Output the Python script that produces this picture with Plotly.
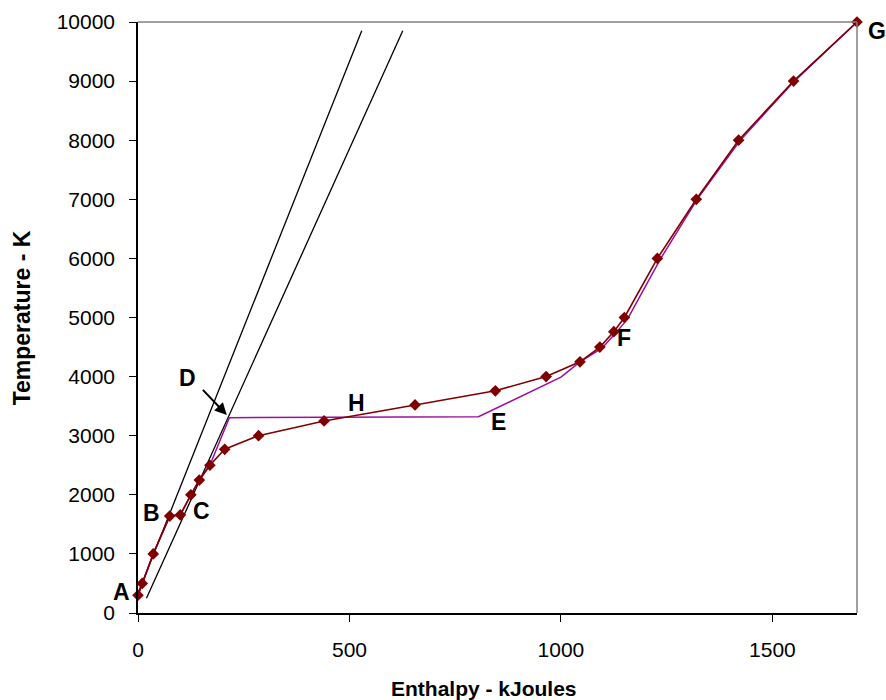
import plotly.graph_objects as go

# Main measured curve (dark red with diamond markers)
enthalpy = [0, 10, 36, 75, 100, 125, 145, 170, 205, 285, 440, 655, 845, 965,
            1045, 1092, 1125, 1150, 1228, 1320, 1420, 1550, 1700]
temperature = [300, 500, 1000, 1640, 1660, 2000, 2250, 2500, 2770, 3000, 3250,
               3520, 3760, 4000, 4250, 4500, 4760, 5000, 6000, 7000, 8000, 9000, 10000]

# Purple equilibrium path
eq_enthalpy = [0, 10, 36, 75, 100, 125, 145, 170, 216, 805, 1000, 1045, 1097,
               1130, 1158, 1236, 1322, 1424, 1552, 1700]
eq_temperature = [300, 500, 1000, 1640, 1660, 2000, 2250, 2500, 3305, 3320, 3990,
                  4250, 4480, 4740, 4980, 6000, 7000, 8000, 9000, 10000]

# Two straight reference lines
line1_x = [0, 529]
line1_y = [333, 9853]
line2_x = [20, 626]
line2_y = [248, 9853]

# Point labels (label anchor in data coords, plus pixel offsets for edge labels)
label_text = ["A", "B", "C", "D", "H", "E", "F", "G"]
label_x = [0, 31, 149, 116, 517, 852, 1149, 1700]
label_y = [355, 1692, 1726, 3976, 3548, 3237, 4648, 9848]
label_dx = [-17, 0, 0, 0, 0, 0, 0, 20]

# Arrow D
arrow_tail = (150, 3800)
arrow_head = (210, 3350)

x_ticks = [0, 500, 1000, 1500]
y_ticks = list(range(0, 10001, 1000))
y_ticktext = [str(v) for v in y_ticks]

FONT = "Liberation Sans, Arial, sans-serif"

fig = go.Figure()
fig.add_trace(go.Scatter(x=line1_x, y=line1_y, mode="lines",
                         line=dict(color="black", width=1.3), hoverinfo="skip"))
fig.add_trace(go.Scatter(x=line2_x, y=line2_y, mode="lines",
                         line=dict(color="black", width=1.3), hoverinfo="skip"))
fig.add_trace(go.Scatter(x=eq_enthalpy, y=eq_temperature, mode="lines",
                         line=dict(color="#9B0FA0", width=1.5), cliponaxis=False))
fig.add_trace(go.Scatter(x=enthalpy, y=temperature, mode="lines+markers",
                         line=dict(color="#800000", width=1.6), cliponaxis=False,
                         marker=dict(symbol="diamond", size=9, color="#800000")))

for t, x, y, dx in zip(label_text, label_x, label_y, label_dx):
    fig.add_annotation(x=x, y=y, xref="x", yref="y", text="<b>%s</b>" % t, showarrow=False,
                       font=dict(family=FONT, size=23, color="black"), xshift=dx,
                       xanchor="center", yanchor="middle")

fig.add_annotation(x=arrow_head[0], y=arrow_head[1], ax=arrow_tail[0], ay=arrow_tail[1],
                   xref="x", yref="y", axref="x", ayref="y", text="",
                   showarrow=True, arrowhead=2, arrowsize=1.2, arrowwidth=2,
                   arrowcolor="black")

# axis titles
fig.add_annotation(x=0.481, y=-0.127, xref="paper", yref="paper",
                   text="<b>Enthalpy - kJoules</b>", showarrow=False,
                   font=dict(family=FONT, size=21, color="black"),
                   xanchor="center", yanchor="middle")
fig.add_annotation(x=-0.161, y=0.499, xref="paper", yref="paper",
                   text="<b>Temperature - K</b>", showarrow=False, textangle=-90,
                   font=dict(family=FONT, size=23, color="black"),
                   xanchor="center", yanchor="middle")

# gray plot-area border on top and right
fig.add_shape(type="line", xref="paper", yref="paper", x0=0, x1=1, y0=1, y1=1,
              line=dict(color="#808080", width=1.5))
fig.add_shape(type="line", xref="paper", yref="paper", x0=1, x1=1, y0=0, y1=1,
              line=dict(color="#808080", width=1.5))

fig.update_layout(
    width=886, height=700,
    margin=dict(l=138, r=29, t=22, b=87),
    paper_bgcolor="white", plot_bgcolor="white",
    showlegend=False,
    font=dict(family=FONT, color="black"),
)
fig.update_xaxes(range=[0, 1700], tickvals=x_ticks, showgrid=False, zeroline=False,
                 showline=True, linecolor="black", linewidth=1.5,
                 ticks="outside", ticklen=7, tickcolor="black",
                 ticklabelstandoff=10, automargin=False,
                 tickfont=dict(size=21, family=FONT))
fig.update_yaxes(range=[0, 10000], tickvals=y_ticks, ticktext=y_ticktext,
                 showgrid=False, zeroline=False,
                 showline=True, linecolor="black", linewidth=1.5,
                 ticks="outside", ticklen=7, tickcolor="black",
                 ticklabelstandoff=10, automargin=False,
                 tickfont=dict(size=21, family=FONT))

fig.write_html("out.html")
